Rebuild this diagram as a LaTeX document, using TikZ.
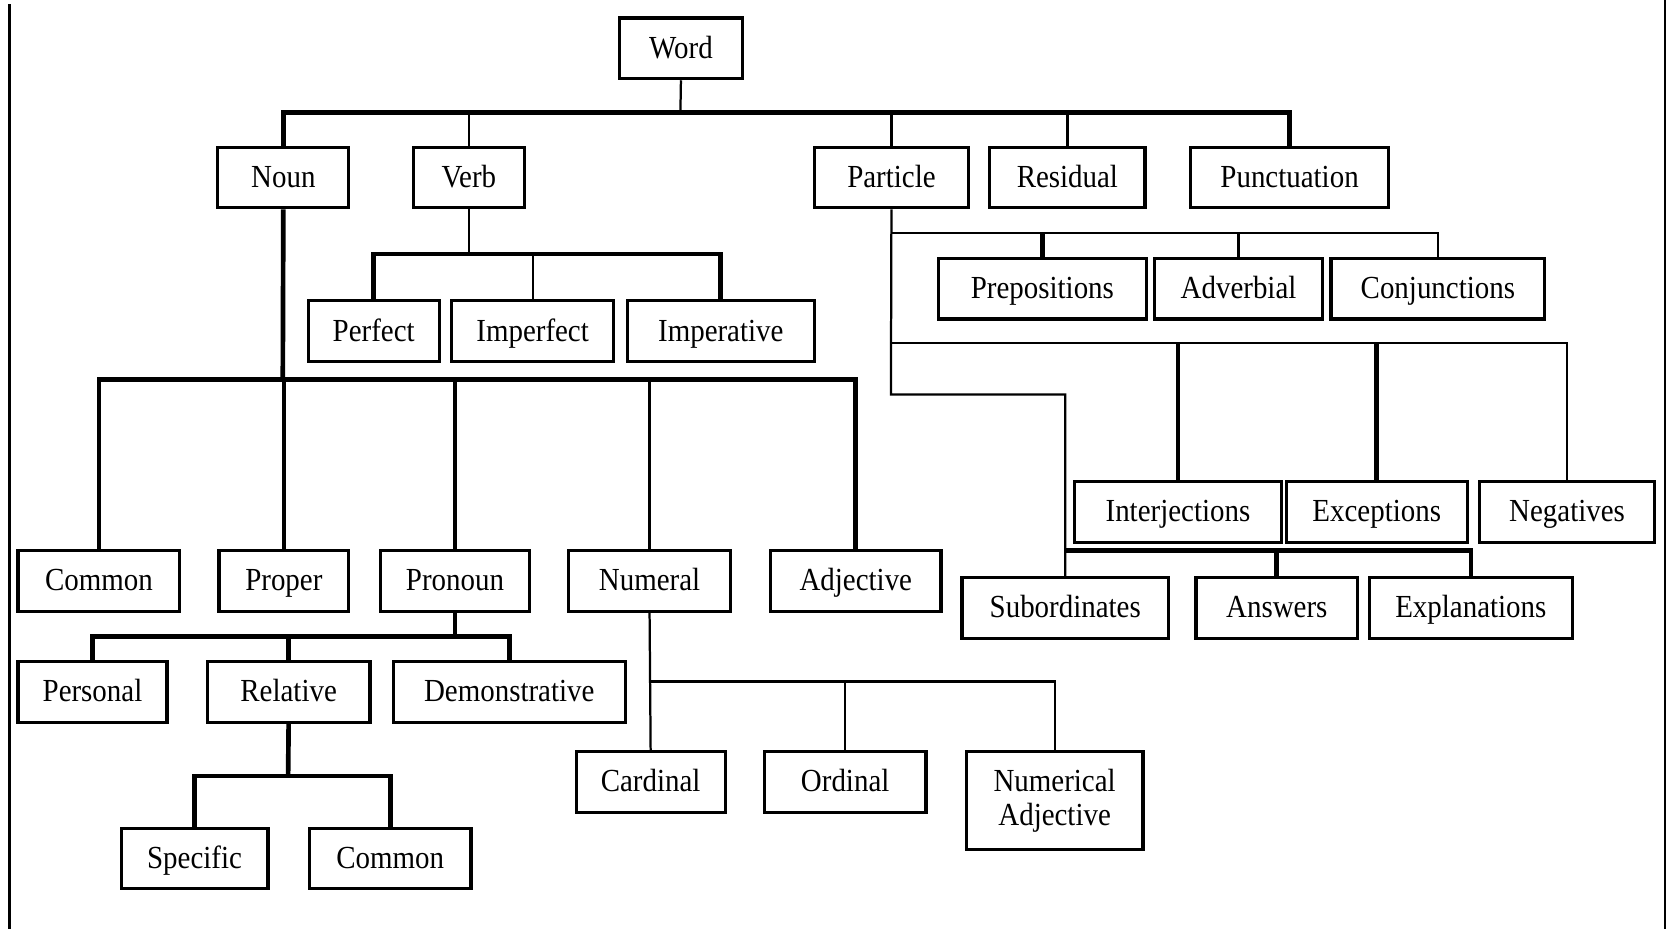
\documentclass[tikz,border=0pt]{standalone}
\usepackage{fontspec}
\setmainfont[FakeStretch=0.9]{Liberation Serif}
\begin{document}
\begin{tikzpicture}[x=0.01cm,y=-0.01cm,
  boxbase/.style={draw,line width=0.85pt,minimum height=0.57cm,inner sep=0pt,
    font=\fontsize{8.6pt}{10pt}\selectfont,align=center},
  box/.style={boxbase,text height=1.6ex,text depth=0.45ex},
  thk/.style={line width=1.25pt},
  thn/.style={line width=0.6pt},
  border/.style={line width=0.9pt}]
\useasboundingbox (0,0) rectangle (1568,874);
% frame lines
\draw[border] (9,4) -- (9,874);
\draw[line width=0.4pt] (1566,0) -- (1566,874);
% nodes
\node[box,minimum width=1.15cm] (word) at (640.5,45.5) {Word};
\node[box,minimum width=1.23cm] (noun) at (266.5,167) {Noun};
\node[box,minimum width=1.04cm] (verb) at (441,167) {Verb};
\node[box,minimum width=1.45cm] (particle) at (838.5,167) {Particle};
\node[box,minimum width=1.46cm] (residual) at (1004,167) {Residual};
\node[box,minimum width=1.86cm] (punct) at (1213,167) {Punctuation};
% verb children
\node[box,minimum width=1.23cm] (perfect) at (351.5,311.5) {Perfect};
\node[box,minimum width=1.52cm] (imperfect) at (501,311.5) {Imperfect};
\node[box,minimum width=1.76cm] (imperative) at (678,311.5) {Imperative};
% noun children
\node[box,minimum width=1.52cm] (common) at (93,546.5) {Common};
\node[box,minimum width=1.22cm] (proper) at (267,546.5) {Proper};
\node[box,minimum width=1.40cm] (pronoun) at (428,546.5) {Pronoun};
\node[box,minimum width=1.52cm] (numeral) at (611,546.5) {Numeral};
\node[box,minimum width=1.60cm] (adjective) at (805,546.5) {Adjective};
% pronoun children
\node[box,minimum width=1.40cm] (personal) at (87,651) {Personal};
\node[box,minimum width=1.53cm] (relative) at (271.5,651) {Relative};
\node[box,minimum width=2.18cm] (demonstr) at (479,651) {Demonstrative};
% relative children
\node[box,minimum width=1.38cm] (specific) at (183,807.5) {Specific};
\node[box,minimum width=1.52cm] (common2) at (367,807.5) {Common};
% numeral children
\node[box,minimum width=1.40cm] (cardinal) at (612,735.5) {Cardinal};
\node[box,minimum width=1.52cm] (ordinal) at (795,735.5) {Ordinal};
\node[boxbase,minimum width=1.66cm,minimum height=0.92cm] (numadj) at (992,753) {Numerical\\[-1pt]Adjective};
% particle children
\node[box,minimum width=1.95cm] (prep) at (980.5,271.5) {Prepositions};
\node[box,minimum width=1.58cm] (adverbial) at (1165,271.5) {Adverbial};
\node[box,minimum width=2.01cm] (conj) at (1352.5,271.5) {Conjunctions};
\node[box,minimum width=1.94cm] (interj) at (1108,481.5) {Interjections};
\node[box,minimum width=1.70cm] (except) at (1295,481.5) {Exceptions};
\node[box,minimum width=1.64cm] (negat) at (1474,481.5) {Negatives};
\node[box,minimum width=1.94cm] (subord) at (1002,572) {Subordinates};
\node[box,minimum width=1.52cm] (answers) at (1201,572) {Answers};
\node[box,minimum width=1.91cm] (expl) at (1383.5,572) {Explanations};
% bar coordinates
\coordinate (b0) at (640,106);
\coordinate (bv) at (441,239);
\coordinate (bn) at (266,357);
\coordinate (bp) at (428,599);
\coordinate (br) at (271,730);
\coordinate (bm) at (612,641);
\coordinate (bq1) at (838,219);
\coordinate (bq2) at (838,323);
\coordinate (bq3) at (838,371);
\coordinate (bs) at (1001,518);
% Word level
\draw[thn] (word.south) -- (b0);
\draw[thk] (noun.north) -- (noun.north |- b0) -- (punct.north |- b0) -- (punct.north);
\draw[thn] (verb.north) -- (verb.north |- b0);
\draw[thn] (particle.north) -- (particle.north |- b0);
\draw[thn] (residual.north) -- (residual.north |- b0);
% Verb
\draw[thn] (verb.south) -- (bv);
\draw[thk] (perfect.north) -- (perfect.north |- bv) -- (imperative.north |- bv) -- (imperative.north);
\draw[thn] (imperfect.north) -- (imperfect.north |- bv);
% Noun
\draw[thk] (noun.south) -- (bn);
\draw[thk] (common.north) -- (common.north |- bn) -- (adjective.north |- bn) -- (adjective.north);
\draw[thk] (proper.north) -- (proper.north |- bn);
\draw[thk] (pronoun.north) -- (pronoun.north |- bn);
\draw[thn] (numeral.north) -- (numeral.north |- bn);
% Pronoun
\draw[thk] (pronoun.south) -- (bp);
\draw[thk] (personal.north) -- (personal.north |- bp) -- (demonstr.north |- bp) -- (demonstr.north);
\draw[thk] (relative.north) -- (relative.north |- bp);
% Relative
\draw[thk] (relative.south) -- (br);
\draw[thk] (specific.north) -- (specific.north |- br) -- (common2.north |- br) -- (common2.north);
% Numeral
\draw[thn] (numeral.south) -- (cardinal.north);
\draw[thn] (bm) -- (numadj.north |- bm) -- (numadj.north);
\draw[thn] (ordinal.north) -- (ordinal.north |- bm);
% Particle
\draw[thn] (particle.south) -- (bq3) -| (subord.north);
\draw[thn] (bq1) -- (conj.north |- bq1) -- (conj.north);
\draw[thk] (prep.north) -- (prep.north |- bq1);
\draw[thn] (adverbial.north) -- (adverbial.north |- bq1);
\draw[thn] (bq2) -- (negat.north |- bq2) -- (negat.north);
\draw[thk] (interj.north) -- (interj.north |- bq2);
\draw[thk] (except.north) -- (except.north |- bq2);
% Subordinates group
\draw[thk] (bs) -- (expl.north |- bs) -- (expl.north);
\draw[thk] (answers.north) -- (answers.north |- bs);
\end{tikzpicture}
\end{document}
